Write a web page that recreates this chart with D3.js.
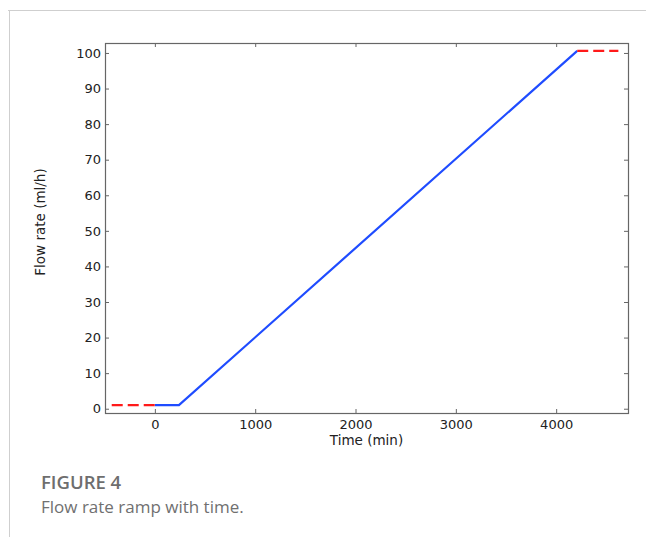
<!DOCTYPE html>
<html>
<head>
<meta charset="utf-8">
<script src="https://cdn.jsdelivr.net/npm/d3@7"></script>
<style>
  html, body { margin: 0; padding: 0; background: #fff; }
  svg { display: block; }
</style>
</head>
<body>
<script>
// Flow-rate schedule: constant start, linear ramp, constant end
const rampTime = [0, 240, 4210];          // min
const rampFlow = [1, 1, 100.6];           // ml/h
const beforeTime = [-430, 0];
const beforeFlow = [1, 1];
const afterTime = [4210, 4620];
const afterFlow = [100.6, 100.6];

const xTicks = [0, 1000, 2000, 3000, 4000];
const yTicks = [0, 10, 20, 30, 40, 50, 60, 70, 80, 90, 100];

const W = 646, H = 537;
const plot = { left: 105, right: 628, top: 43, bottom: 413 };

const svg = d3.select("body").append("svg").attr("width", W).attr("height", H);

// page frame lines
svg.append("line").attr("x1", 8).attr("x2", W).attr("y1", 10.5).attr("y2", 10.5)
  .attr("stroke", "#cfcfcf").attr("stroke-width", 1);
svg.append("line").attr("x1", 9.5).attr("x2", 9.5).attr("y1", 10).attr("y2", H)
  .attr("stroke", "#cfcfcf").attr("stroke-width", 1);

const x = d3.scaleLinear().domain([-497, 4716]).range([plot.left, plot.right]);
const y = d3.scaleLinear().domain([-1.2, 102.8]).range([plot.bottom, plot.top]);

const axisColor = "#666";
const tickFont = "'DejaVu Sans', sans-serif";

function styleAxis(g, showText) {
  g.select(".domain").remove();
  g.selectAll(".tick line").attr("stroke", axisColor).attr("stroke-width", 1);
  g.selectAll(".tick text").attr("fill", "#222").style("font-family", tickFont).style("font-size", "13px");
  if (!showText) g.selectAll(".tick text").remove();
}

// bottom / top / left / right axes with inward ticks
svg.append("g").attr("transform", `translate(0,${plot.bottom})`)
  .call(d3.axisBottom(x).tickValues(xTicks).tickSize(-4).tickPadding(7).tickFormat(d3.format("d")))
  .call(g => styleAxis(g, true));
svg.append("g").attr("transform", `translate(0,${plot.top})`)
  .call(d3.axisTop(x).tickValues(xTicks).tickSize(-4))
  .call(g => styleAxis(g, false));
svg.append("g").attr("transform", `translate(${plot.left},0)`)
  .call(d3.axisLeft(y).tickValues(yTicks).tickSize(-4).tickPadding(4).tickFormat(d3.format("d")))
  .call(g => styleAxis(g, true));
svg.append("g").attr("transform", `translate(${plot.right},0)`)
  .call(d3.axisRight(y).tickValues(yTicks).tickSize(-4))
  .call(g => styleAxis(g, false));

// plot border
svg.append("rect")
  .attr("x", plot.left + 0.5).attr("y", plot.top + 0.5)
  .attr("width", plot.right - plot.left).attr("height", plot.bottom - plot.top)
  .attr("fill", "none").attr("stroke", axisColor).attr("stroke-width", 1.2);

const line = d3.line().x(d => x(d[0])).y(d => y(d[1]));

svg.append("path").datum(d3.zip(rampTime, rampFlow))
  .attr("d", line).attr("fill", "none").attr("stroke", "#1f4cff").attr("stroke-width", 2.2);
[d3.zip(beforeTime, beforeFlow), d3.zip(afterTime, afterFlow)].forEach(seg => {
  svg.append("path").datum(seg)
    .attr("d", line).attr("fill", "none").attr("stroke", "#ff1a1a")
    .attr("stroke-width", 2.2).attr("stroke-dasharray", "11,5");
});

// axis titles
svg.append("text").attr("x", (plot.left + plot.right) / 2).attr("y", 445)
  .attr("text-anchor", "middle").attr("fill", "#222")
  .style("font-family", tickFont).style("font-size", "13.5px").text("Time (min)");
svg.append("text").attr("transform", `translate(45,${222}) rotate(-90)`)
  .attr("text-anchor", "middle").attr("fill", "#222")
  .style("font-family", tickFont).style("font-size", "13.5px").text("Flow rate (ml/h)");

// caption
svg.append("text").attr("x", 41).attr("y", 489).attr("fill", "#6e6e6e")
  .style("font-family", "'Open Sans', sans-serif").style("font-size", "18.5px").style("font-weight", "600")
  .text("FIGURE 4");
svg.append("text").attr("x", 41).attr("y", 513).attr("fill", "#707070")
  .style("font-family", "'Open Sans', sans-serif").style("font-size", "17px")
  .text("Flow rate ramp with time.");
</script>
</body>
</html>
